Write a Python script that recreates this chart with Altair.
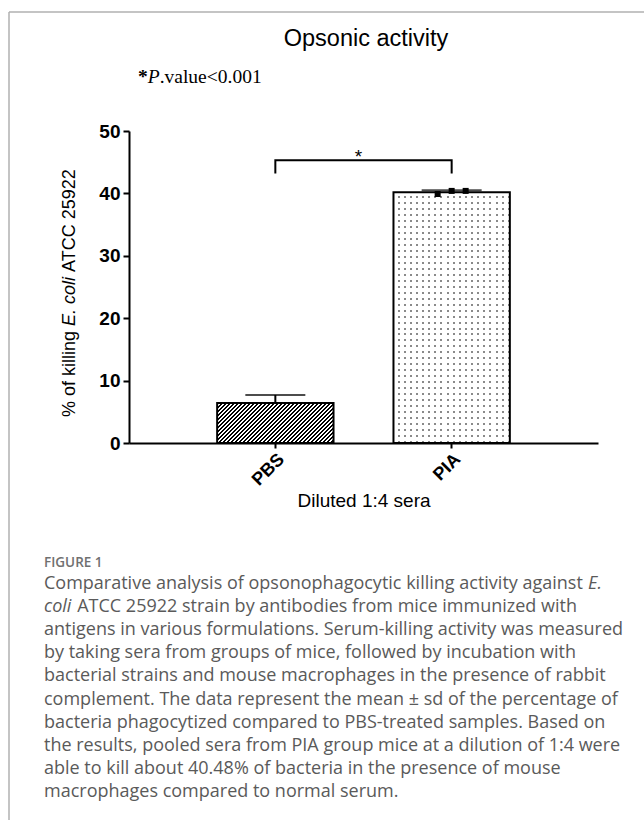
import altair as alt
import pandas as pd

# ---------------- data ----------------
categories = ["PBS", "PIA"]
means = [6.4, 40.2]
sds = [1.3, 0.3]
pia_reps = [-1, 0, 1]
pia_values = [39.9, 40.4, 40.4]
bracket_low = 43.2
bracket_high = 45.3
y_ticks = [0, 10, 20, 30, 40, 50]

chart_title = "Opsonic activity"
pvalue_parts = ["*", "P", ".value<0.001"]
ytitle_parts = ["% of killing ", "E. coli ", "ATCC 25922"]
x_title = "Diluted 1:4 sera"
star_text = "*"
figure_label = "FIGURE 1"
caption_lines = [
    [("Comparative analysis of opsonophagocytic killing activity against ", False), ("E.", True)],
    [("coli ", True), ("ATCC 25922 strain by antibodies from mice immunized with", False)],
    [("antigens in various formulations. Serum-killing activity was measured", False)],
    [("by taking sera from groups of mice, followed by incubation with", False)],
    [("bacterial strains and mouse macrophages in the presence of rabbit", False)],
    [("complement. The data represent the mean \u00b1 sd of the percentage of", False)],
    [("bacteria phagocytized compared to PBS-treated samples. Based on", False)],
    [("the results, pooled sera from PIA group mice at a dilution of 1:4 were", False)],
    [("able to kill about 40.48% of bacteria in the presence of mouse", False)],
    [("macrophages compared to normal serum.", False)],
]

# ---------------- layout ----------------
TOTAL_W, TOTAL_H = 644, 820
L, T, W, H = 129, 131, 469, 312
PI, PO = 0.34, 0.5
YMAX = 50
REP_GAP = 14

step = W / (len(categories) - PI + 2 * PO)
bw = step * (1 - PI)
band0 = (W - step * (len(categories) - PI)) / 2
centers = [band0 + i * step + bw / 2 for i in range(len(categories))]

SANS = "Liberation Sans"
SERIF = "Liberation Serif"
CAP = "Open Sans"

# approximate advance widths
ARIAL = {c: 556 for c in "0123456789"}
ARIAL.update({" ": 278, "%": 889, "o": 556, "f": 278, "k": 500, "i": 222, "l": 222,
              "n": 556, "g": 556, "E": 667, ".": 278, "c": 500, "A": 667, "T": 611, "C": 722})
OPEN = {c: 1171 for c in "0123456789"}
OPEN.update({" ": 532, "%": 1696, ",": 502, "-": 659, ".": 545, ":": 545,
             "A": 1296, "B": 1327, "C": 1292, "E": 1139, "I": 571, "P": 1233, "S": 1124, "T": 1133,
             "a": 1139, "b": 1255, "c": 975, "d": 1255, "e": 1149, "f": 694, "g": 1122, "h": 1257,
             "i": 518, "j": 518, "k": 1075, "l": 518, "m": 1905, "n": 1257, "o": 1237, "p": 1255,
             "q": 1255, "r": 836, "s": 977, "t": 723, "u": 1257, "v": 1026, "w": 1593, "x": 1073,
             "y": 1028, "z": 977})


def arial_w(s, size):
    return sum(ARIAL.get(c, 556) for c in s) * size / 1000.0


def open_w(s, size):
    return sum(OPEN.get(c, 1100) for c in s) * size / 2048.0


# ---------------- fills ----------------
def hatch_gradient(w, h, period=4.0):
    a, b = 1.0 / h, 1.0 / w
    k = (a + b) / (a * a + b * b)
    n = max(1, round((w + h) / period))
    stops = []
    for i in range(n):
        o0, o1, o2 = round(i / n, 5), round((i + 0.5) / n, 5), round((i + 1) / n, 5)
        stops += [{"offset": o0, "color": "#000000"}, {"offset": o1, "color": "#000000"},
                  {"offset": o1, "color": "#ffffff"}, {"offset": o2, "color": "#ffffff"}]
    return {"gradient": "linear", "x1": 0, "y1": 0, "x2": round(k * a, 5), "y2": round(k * b, 5),
            "stops": stops}


def stripe_gradient(length, period, gap, horizontal):
    n = max(1, round(length / period))
    clear = "rgba(255,255,255,0)"
    g = gap / (length / n)
    stops = []
    for i in range(n):
        o0 = round(i / n, 5)
        o1 = round((i + 1 - g) / n, 5)
        o2 = round((i + 1) / n, 5)
        stops += [{"offset": o0, "color": "#ffffff"}, {"offset": o1, "color": "#ffffff"},
                  {"offset": o1, "color": clear}, {"offset": o2, "color": clear}]
    return {"gradient": "linear", "x1": 0, "y1": 0,
            "x2": 1 if horizontal else 0, "y2": 0 if horizontal else 1, "stops": stops}


pbs_h = means[0] / YMAX * H
pia_h = means[1] / YMAX * H

# ---------------- tables ----------------
bars = pd.DataFrame({"cat": categories, "mean": means,
                     "hi": [m + s for m, s in zip(means, sds)]})
points = pd.DataFrame({"cat": ["PIA"] * len(pia_values), "rep": pia_reps, "val": pia_values})
bracket = pd.DataFrame({"cat": [categories[0], categories[0], categories[1], categories[1]],
                        "y": [bracket_low, bracket_high, bracket_high, bracket_low],
                        "o": [0, 1, 2, 3]})
one = pd.DataFrame({"a": [0]})

x_axis = alt.Axis(labelAngle=-45, labelFont=SANS, labelFontWeight="bold", labelFontSize=18,
                  labelColor="black", labelPadding=2, tickColor="black", tickWidth=2, tickSize=5,
                  domainColor="black", domainWidth=2, title=x_title, titleFont=SANS,
                  titleFontSize=19, titleFontWeight="normal", titleColor="black",
                  titleY=63, titleBaseline="alphabetic", grid=False)
y_axis = alt.Axis(values=y_ticks, labelFont=SANS, labelFontWeight="bold", labelFontSize=19,
                  labelColor="black", labelPadding=3, tickColor="black", tickWidth=2, tickSize=6,
                  domainColor="black", domainWidth=2, title=None, grid=False)
xs = alt.Scale(domain=categories, paddingInner=PI, paddingOuter=PO)
ys = alt.Scale(domain=[0, YMAX], nice=False)


def X():
    return alt.X("cat:N", scale=xs, axis=x_axis, sort=categories)


def Y(f):
    return alt.Y(f"{f}:Q", scale=ys, axis=y_axis)


base_bars = alt.Chart(bars)
pbs_bar = base_bars.transform_filter(alt.datum.cat == "PBS").mark_bar(
    fill=hatch_gradient(bw, pbs_h), stroke="black", strokeWidth=2).encode(x=X(), y=Y("mean"))
pia_src = base_bars.transform_filter(alt.datum.cat == "PIA")
pia_base = pia_src.mark_bar(fill="#8a8a8a").encode(x=X(), y=Y("mean"))
pia_vx = pia_src.mark_bar(fill=stripe_gradient(bw, 6, 2, True)).encode(x=X(), y=Y("mean"))
pia_vy = pia_src.mark_bar(fill=stripe_gradient(pia_h, 6, 2, False)).encode(x=X(), y=Y("mean"))
pia_out = pia_src.mark_bar(fillOpacity=0, stroke="black", strokeWidth=2).encode(x=X(), y=Y("mean"))

err = base_bars.mark_rule(color="black", strokeWidth=2).encode(x=X(), y=Y("mean"), y2="hi:Q")
cap = base_bars.mark_tick(color="black", thickness=2, size=60).encode(x=X(), y=Y("hi"))
pt_layers = []
for r in pia_reps:
    pt_layers.append(
        alt.Chart(points).transform_filter(alt.datum.rep == r)
        .mark_square(color="black", size=36, opacity=1, xOffset=r * REP_GAP)
        .encode(x=X(), y=Y("val")))
brk = alt.Chart(bracket).mark_line(color="black", strokeWidth=2).encode(
    x=X(), y=Y("y"), order="o:Q")


def label(text, x, y, **kw):
    return alt.Chart(one).mark_text(text=text, **kw).encode(x=alt.value(x), y=alt.value(y))


texts = []
# title
texts.append(label(chart_title, 237, 46 - T, font=SANS, fontSize=23.5, color="black",
                   align="center", baseline="alphabetic"))
# p-value note
PS = 19.5
px = 138 - L
pb = 83 - T
texts.append(label(pvalue_parts[0], px, pb, font=SERIF, fontSize=PS, fontWeight="bold",
                   color="black", align="left", baseline="alphabetic"))
texts.append(label(pvalue_parts[1], px + 0.5 * PS, pb, font=SERIF, fontSize=PS, fontStyle="italic",
                   color="black", align="left", baseline="alphabetic"))
texts.append(label(pvalue_parts[2], px + 0.5 * PS + 0.611 * PS, pb, font=SERIF, fontSize=PS,
                   color="black", align="left", baseline="alphabetic"))
# significance star
texts.append(label(star_text, (centers[0] + centers[1]) / 2 - 5, 163 - T, font=SANS, fontSize=19,
                   color="black", align="center", baseline="alphabetic"))
# y axis title pieces
ty = 417 - T
tx = 75 - L
for i, part in enumerate(ytitle_parts):
    kw = dict(font=SANS, fontSize=18, color="black", angle=270, align="left",
              baseline="alphabetic")
    if i == 1:
        kw["fontStyle"] = "italic"
    texts.append(label(part, tx, ty, **kw))
    ty -= arial_w(part, 18)
# border
border_left = alt.Chart(one).mark_rule(color="#b0b0b0", strokeWidth=1.5).encode(
    x=alt.value(9 - L), y=alt.value(12 - T), y2=alt.value(TOTAL_H - T))
border_top = alt.Chart(one).mark_rule(color="#b0b0b0", strokeWidth=1.5).encode(
    x=alt.value(9 - L), x2=alt.value(TOTAL_W - L), y=alt.value(12 - T))
# caption
texts.append(label(figure_label, 44 - L, 567 - T, font=CAP, fontSize=13.5, fontWeight=600,
                   color="#707070", align="left", baseline="alphabetic"))
CS = 18.0
for li, segs in enumerate(caption_lines):
    cx = 44 - L
    cy = 589 - T + li * 23.1
    for seg, ital in segs:
        kw = dict(font=CAP, fontSize=CS, color="#5a5a5a", align="left", baseline="alphabetic")
        if ital:
            kw["fontStyle"] = "italic"
        texts.append(label(seg, cx, cy, **kw))
        cx += open_w(seg, CS)

chart = alt.layer(border_left, border_top, pbs_bar, pia_base, pia_vx, pia_vy, pia_out, err, cap,
                  *pt_layers, brk, *texts).properties(
    width=W, height=H,
    autosize=alt.AutoSizeParams(type="none"),
    padding={"left": L, "top": T, "right": TOTAL_W - L - W, "bottom": TOTAL_H - T - H},
    background="white",
).configure_view(stroke=None)

chart.save("out.html", embed_options={"renderer": "svg", "actions": False})
